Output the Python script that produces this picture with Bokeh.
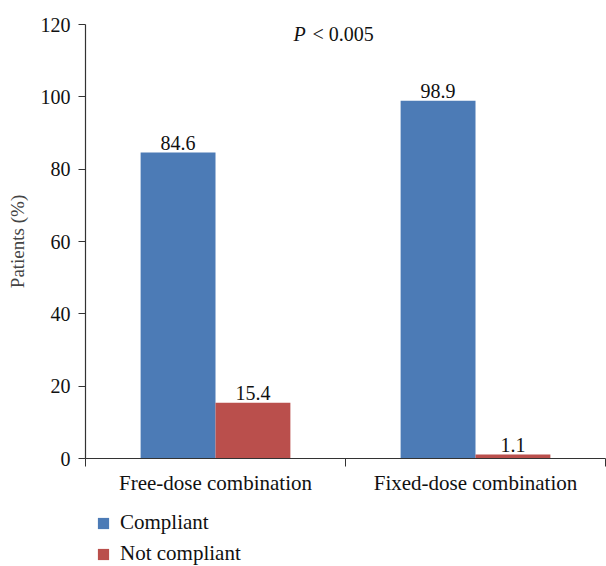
from bokeh.plotting import figure
from bokeh.models import (ColumnDataSource, FixedTicker, Legend, LegendItem, Label, Range1d)
from bokeh.layouts import column
from bokeh.embed import file_html
from bokeh.resources import INLINE
from bokeh.core.properties import value

categories = ["Free-dose combination", "Fixed-dose combination"]
compliant = [84.6, 98.9]
not_compliant = [15.4, 1.1]
series_names = ["Compliant", "Not compliant"]
y_ticks = [0, 20, 40, 60, 80, 100, 120]

FONT = "Liberation Serif"
BLUE = "#4C7BB6"
RED = "#BA4F4C"
AX = "#333333"
TXT = "#111111"

n = len(categories)
centers = [i + 0.5 for i in range(n)]
bw = 0.288
src_c = ColumnDataSource(dict(x=[c - bw / 2 for c in centers], top=compliant,
                              lab=[f"{v:.1f}" for v in compliant]))
src_n = ColumnDataSource(dict(x=[c + bw / 2 for c in centers], top=not_compliant,
                              lab=[f"{v:.1f}" for v in not_compliant]))

p = figure(width=606, height=511, output_backend="svg", toolbar_location=None,
           x_range=Range1d(0, n), y_range=Range1d(0, 120),
           min_border_left=85, min_border_right=1, min_border_top=24, min_border_bottom=53)
p.outline_line_color = None
p.grid.grid_line_color = None
p.background_fill_color = "white"

p.vbar(x="x", top="top", width=bw, source=src_c, fill_color=BLUE, line_color=None)
p.vbar(x="x", top="top", width=bw, source=src_n, fill_color=RED, line_color=None)

for src in (src_c, src_n):
    p.text(x="x", y="top", text="lab", source=src, text_align="center", text_baseline="bottom",
           y_offset=-3, text_font=value(FONT), text_font_size="20px", text_color=TXT)

# x axis
xa = p.xaxis[0]
xa.ticker = FixedTicker(ticks=centers, minor_ticks=[float(i) for i in range(n + 1)])
xa.major_label_overrides = {c: lab for c, lab in zip(centers, categories)}
xa.major_tick_line_color = None
xa.minor_tick_line_color = AX
xa.minor_tick_out = 8
xa.minor_tick_in = 0
xa.axis_line_color = AX
xa.axis_line_width = 1.2
xa.major_label_text_font = FONT
xa.major_label_text_font_size = "21px"
xa.major_label_text_color = TXT
xa.major_label_standoff = 4

ya = p.yaxis[0]
ya.ticker = FixedTicker(ticks=y_ticks)
ya.minor_tick_line_color = None
ya.major_tick_out = 7
ya.major_tick_in = 0
ya.major_tick_line_color = AX
ya.axis_line_color = AX
ya.axis_line_width = 1.2
ya.major_label_text_font = FONT
ya.major_label_text_font_size = "20px"
ya.major_label_text_color = TXT
ya.major_label_standoff = 8
ya.axis_label = "Patients (%)"
ya.axis_label_text_font = FONT
ya.axis_label_text_font_style = "normal"
ya.axis_label_text_font_size = "19px"
ya.axis_label_standoff = 10

p.add_layout(Label(x=0.80, y=117.5, text="P", text_font=FONT, text_font_style="italic",
                   text_font_size="20px", text_baseline="middle", text_color=TXT))
p.add_layout(Label(x=0.80, y=117.5, x_offset=19, text="< 0.005", text_font=FONT,
                   text_font_size="20px", text_baseline="middle", text_color=TXT))

# legend strip below the chart (its frame is aligned with the chart's frame)
p2 = figure(width=606, height=55, output_backend="svg", toolbar_location=None,
            x_range=Range1d(0, 1), y_range=Range1d(0, 1),
            min_border_left=85, min_border_right=1, min_border_top=0, min_border_bottom=0)
p2.axis.visible = False
p2.grid.grid_line_color = None
p2.outline_line_color = None
# hidden legend proxies (placed outside the visible range)
lc = p2.vbar(x=[-5], top=[0], width=0.1, fill_color=BLUE, line_color=None)
ln = p2.vbar(x=[-5], top=[0], width=0.1, fill_color=RED, line_color=None)
legend = Legend(items=[LegendItem(label=series_names[0], renderers=[lc]),
                       LegendItem(label=series_names[1], renderers=[ln])],
                orientation="vertical", location=(11, 0),
                label_text_font=FONT, label_text_font_size="21px", label_text_color=TXT,
                glyph_width=14, glyph_height=14, spacing=6, padding=0, margin=0,
                label_standoff=10, border_line_color=None, background_fill_alpha=0)
p2.add_layout(legend, "center")

open("out.html", "w").write(file_html(column(p, p2), INLINE))
